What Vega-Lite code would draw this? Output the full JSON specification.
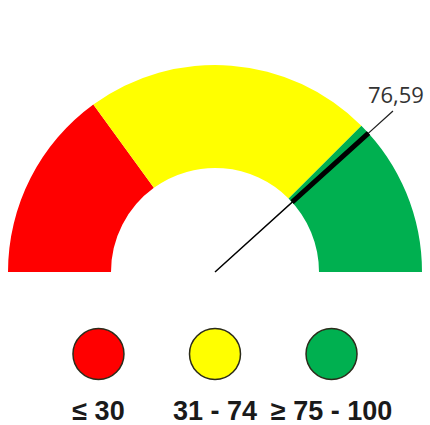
{
  "$schema": "https://vega.github.io/schema/vega-lite/v6.json",
  "width": 430,
  "height": 425,
  "autosize": {"type": "fit", "contains": "padding"},
  "padding": 0,
  "background": "white",
  "config": {"view": {"stroke": null}},
  "datasets": {
    "bands": [
      {"band": "red", "start": 0, "end": 30},
      {"band": "yellow", "start": 30, "end": 75},
      {"band": "green", "start": 75, "end": 100}
    ],
    "reading": [{"value": 76.59, "label": "76,59"}],
    "legend": [
      {"band": "red", "label": "≤ 30"},
      {"band": "yellow", "label": "31 - 74"},
      {"band": "green", "label": "≥ 75 - 100"}
    ]
  },
  "layer": [
    {
      "data": {"name": "bands"},
      "mark": {"type": "arc", "x": 215, "y": 272, "radius": 207, "radius2": 104},
      "encoding": {
        "theta": {"field": "start", "type": "quantitative", "scale": {"domain": [0, 100], "range": [-1.5708, 1.5708]}},
        "theta2": {"field": "end"},
        "color": {"field": "band", "type": "nominal", "scale": {"domain": ["red", "yellow", "green"], "range": ["#FF0000", "#FFFF00", "#00B050"]}, "legend": null}
      }
    },
    {
      "data": {"name": "reading"},
      "mark": {"type": "arc", "x": 215, "y": 272, "radius": 207, "radius2": 0, "stroke": "#000000", "strokeWidth": 1.5, "fill": "#000000"},
      "encoding": {
        "theta": {"field": "value", "type": "quantitative", "stack": null},
        "theta2": {"field": "value"}
      }
    },
    {
      "data": {"name": "reading"},
      "mark": {"type": "arc", "x": 215, "y": 272, "radius": 207, "radius2": 104, "stroke": "#000000", "strokeWidth": 5, "fill": "#000000"},
      "encoding": {
        "theta": {"field": "value", "type": "quantitative", "stack": null},
        "theta2": {"field": "value"}
      }
    },
    {
      "data": {"name": "reading"},
      "mark": {"type": "arc", "x": 215, "y": 272, "radius": 240, "radius2": 207, "stroke": "#222222", "strokeWidth": 1.3, "fill": "#222222"},
      "encoding": {
        "theta": {"field": "value", "type": "quantitative", "stack": null},
        "theta2": {"field": "value"}
      }
    },
    {
      "data": {"name": "reading"},
      "mark": {"type": "text", "x": 215, "y": 272, "radius": 244, "align": "center", "baseline": "bottom", "font": "Open Sans", "fontSize": 22, "color": "#333333"},
      "encoding": {
        "theta": {"field": "value", "type": "quantitative", "stack": null},
        "text": {"field": "label"}
      }
    },
    {
      "data": {"name": "legend"},
      "mark": {"type": "point", "shape": "circle", "filled": true, "opacity": 1, "size": 2600, "stroke": "#2b2b1a", "strokeWidth": 1.5, "y": 354},
      "encoding": {
        "x": {"field": "label", "type": "nominal", "sort": null, "scale": {"type": "point", "padding": 0.845}, "axis": null},
        "color": {"field": "band", "type": "nominal", "legend": null}
      }
    },
    {
      "data": {"name": "legend"},
      "mark": {"type": "text", "y": 420, "baseline": "alphabetic", "align": "center", "font": "Liberation Sans", "fontWeight": "bold", "fontSize": 27, "color": "#1a1a1a"},
      "encoding": {
        "x": {"field": "label", "type": "nominal", "sort": null, "axis": null},
        "text": {"field": "label"}
      }
    }
  ]
}
